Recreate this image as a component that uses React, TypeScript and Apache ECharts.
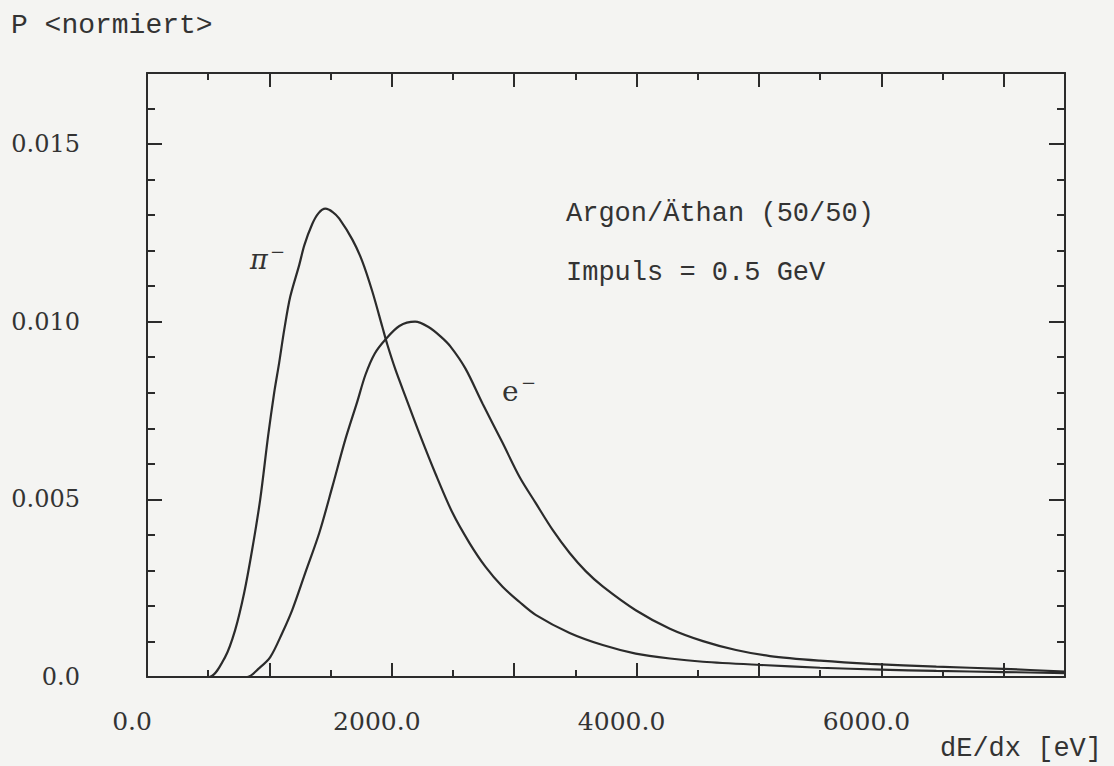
import React, { useEffect, useRef } from "react";
import * as echarts from "echarts";

// pi- distribution (dE/dx in eV, normalized probability)
const piX = [300, 507, 638, 720, 794, 859, 925, 990, 1039, 1080, 1121, 1170, 1244, 1285, 1350, 1400, 1457, 1520, 1571, 1678, 1759, 1841, 1923, 1964, 2030, 2111, 2226, 2357, 2496, 2635, 2766, 2905, 3044, 3175, 3453, 3723, 3993, 4272, 4542, 5008, 5499, 5990, 6449, 6997, 7500];
const piY = [0, 0, 0.00056, 0.00132, 0.00237, 0.00358, 0.005, 0.0068, 0.008, 0.00885, 0.00977, 0.0107, 0.0116, 0.01215, 0.01275, 0.01305, 0.01318, 0.01308, 0.0129, 0.01231, 0.0117, 0.01085, 0.00985, 0.00935, 0.00865, 0.0079, 0.00685, 0.00572, 0.00462, 0.00377, 0.0031, 0.00254, 0.00211, 0.00175, 0.00124, 0.0009, 0.00066, 0.00052, 0.00043, 0.00034, 0.00026, 0.00021, 0.00017, 0.00014, 0.00011];

// e- distribution
const eX = [400, 818, 917, 1007, 1105, 1187, 1293, 1408, 1514, 1620, 1718, 1784, 1860, 1948, 2062, 2190, 2300, 2400, 2480, 2602, 2741, 2905, 3044, 3175, 3314, 3453, 3584, 3723, 3993, 4272, 4542, 4812, 5090, 5499, 5908, 6449, 6997, 7500];
const eY = [0, 0, 0.00025, 0.00056, 0.00124, 0.00189, 0.00293, 0.00406, 0.00535, 0.00668, 0.00775, 0.0085, 0.0091, 0.0095, 0.00988, 0.01, 0.00985, 0.00958, 0.0093, 0.00868, 0.0077, 0.00659, 0.00563, 0.0049, 0.00414, 0.00349, 0.00298, 0.00255, 0.00188, 0.00136, 0.00101, 0.00076, 0.00059, 0.00046, 0.00037, 0.00029, 0.00023, 0.00015];

const xTickLabels = [0, 2000, 4000, 6000];
const yTickLabels = [0, 0.005, 0.01, 0.015];

const X_MIN = 0;
const X_MAX = 7500;
const Y_MIN = 0;
const Y_MAX = 0.017;

const INK = "#2b2b2b";
const SERIF = "DejaVu Serif";
const MONO = "Liberation Mono";

export default function App() {
  const ref = useRef<HTMLDivElement>(null);

  useEffect(() => {
    if (!ref.current) return;
    const chart = echarts.init(ref.current, null, { renderer: "svg" });

    const line = { color: INK, width: 2 };
    const xBase = {
      type: "value" as const,
      min: X_MIN,
      max: X_MAX,
      splitLine: { show: false },
    };
    const yBase = {
      type: "value" as const,
      min: Y_MIN,
      max: Y_MAX,
      splitLine: { show: false },
    };

    const option: any = {
      animation: false,
      backgroundColor: "#f4f4f2",
      grid: {
        left: 147,
        right: 49,
        top: 73,
        bottom: 89,
        outerBoundsMode: "none",
      },
      xAxis: [
        {
          ...xBase,
          position: "bottom",
          interval: 1000,
          axisLine: { show: true, onZero: false, lineStyle: line },
          axisTick: { show: true, inside: true, length: 14, lineStyle: line },
          axisLabel: {
            show: true,
            margin: 32,
            fontFamily: SERIF,
            fontSize: 25,
            color: "#333",
            padding: [0, 30, 0, 0],
            formatter: (v: number) =>
              xTickLabels.some((t) => Math.abs(t - v) < 1e-6) ? v.toFixed(1) : "",
          },
        },
        {
          ...xBase,
          position: "bottom",
          interval: 500,
          axisLine: { show: false, onZero: false },
          axisTick: { show: true, inside: true, length: 7, lineStyle: line },
          axisLabel: { show: false },
        },
        {
          ...xBase,
          position: "top",
          interval: 1000,
          axisLine: { show: true, onZero: false, lineStyle: line },
          axisTick: { show: true, inside: true, length: 14, lineStyle: line },
          axisLabel: { show: false },
        },
        {
          ...xBase,
          position: "top",
          interval: 500,
          axisLine: { show: false, onZero: false },
          axisTick: { show: true, inside: true, length: 7, lineStyle: line },
          axisLabel: { show: false },
        },
      ],
      yAxis: [
        {
          ...yBase,
          position: "left",
          interval: 0.005,
          axisLine: { show: true, onZero: false, lineStyle: line },
          axisTick: { show: true, inside: true, length: 15, lineStyle: line },
          axisLabel: {
            show: true,
            margin: 67,
            fontFamily: SERIF,
            fontSize: 24,
            color: "#333",
            formatter: (v: number) => {
              const hit = yTickLabels.find((t) => Math.abs(t - v) < 1e-9);
              if (hit === undefined) return "";
              return hit === 0 ? "0.0" : hit.toFixed(3);
            },
          },
        },
        {
          ...yBase,
          position: "left",
          interval: 0.001,
          axisLine: { show: false, onZero: false },
          axisTick: { show: true, inside: true, length: 8, lineStyle: line },
          axisLabel: { show: false },
        },
        {
          ...yBase,
          position: "right",
          interval: 0.005,
          axisLine: { show: true, onZero: false, lineStyle: line },
          axisTick: { show: true, inside: true, length: 16, lineStyle: line },
          axisLabel: { show: false },
        },
        {
          ...yBase,
          position: "right",
          interval: 0.001,
          axisLine: { show: false, onZero: false },
          axisTick: { show: true, inside: true, length: 8, lineStyle: line },
          axisLabel: { show: false },
        },
      ],
      series: [
        {
          name: "π⁻",
          type: "line",
          xAxisIndex: 0,
          yAxisIndex: 0,
          data: piX.map((x, i) => [x, piY[i]]),
          showSymbol: false,
          smooth: 0.3,
          lineStyle: { color: INK, width: 2.2 },
        },
        {
          name: "e⁻",
          type: "line",
          xAxisIndex: 0,
          yAxisIndex: 0,
          data: eX.map((x, i) => [x, eY[i]]),
          showSymbol: false,
          smooth: 0.3,
          lineStyle: { color: INK, width: 2.2 },
        },
      ],
      graphic: [
        {
          type: "text",
          left: 11,
          top: 11,
          style: { text: "P <normiert>", fontFamily: MONO, fontSize: 28, fill: "#333" },
        },
        {
          type: "text",
          right: 12,
          top: 735,
          style: { text: "dE/dx [eV]", fontFamily: MONO, fontSize: 27, fill: "#333" },
        },
        {
          type: "text",
          left: 566,
          top: 200,
          style: { text: "Argon/Äthan (50/50)", fontFamily: MONO, fontSize: 27, fill: "#333" },
        },
        {
          type: "text",
          left: 566,
          top: 259,
          style: { text: "Impuls = 0.5 GeV", fontFamily: MONO, fontSize: 27, fill: "#333" },
        },
        {
          type: "text",
          x: 250,
          y: 259,
          style: { text: "π", fontFamily: SERIF, fontStyle: "italic", fontSize: 27, fill: "#333", verticalAlign: "middle" },
        },
        {
          type: "text",
          x: 270,
          y: 251,
          style: { text: "−", fontFamily: SERIF, fontSize: 18, fill: "#333", verticalAlign: "middle" },
        },
        {
          type: "text",
          x: 502,
          y: 391,
          style: { text: "e", fontFamily: SERIF, fontSize: 28, fill: "#333", verticalAlign: "middle" },
        },
        {
          type: "text",
          x: 521,
          y: 382,
          style: { text: "−", fontFamily: SERIF, fontSize: 18, fill: "#333", verticalAlign: "middle" },
        },
      ],
    };

    chart.setOption(option);
    return () => chart.dispose();
  }, []);

  return (
    <div
      ref={ref}
      style={{ position: "fixed", left: 0, top: 0, width: 1114, height: 766 }}
    />
  );
}
